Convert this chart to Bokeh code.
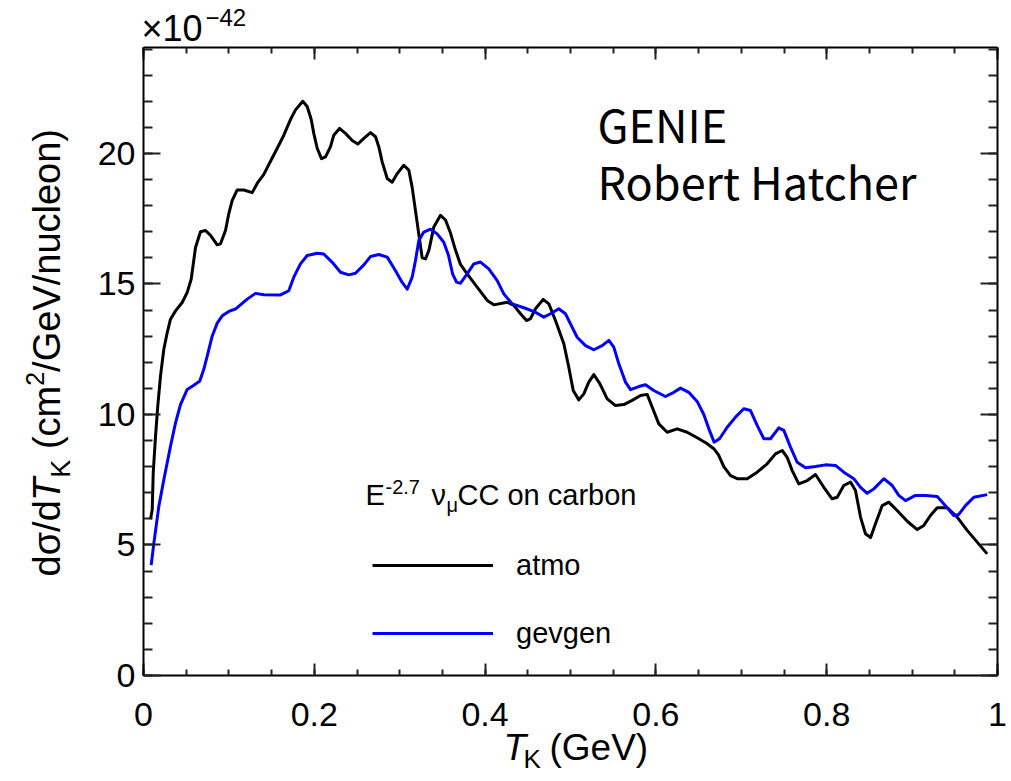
import math
from bokeh.plotting import figure
from bokeh.models import Range1d, FixedTicker, LinearAxis, Label, Legend, LegendItem
from bokeh.embed import file_html
from bokeh.resources import INLINE

# Kaon kinetic energy T_K (GeV) and d(sigma)/dT_K (units of 1e-42 cm^2/GeV/nucleon)
t_atmo = [0.0082, 0.0102, 0.0114, 0.0141, 0.0167, 0.0199, 0.0238, 0.0278, 0.0316, 0.0375,
          0.0453, 0.0512, 0.0559, 0.0609, 0.0667, 0.0726, 0.0785, 0.0863, 0.0902, 0.0960,
          0.0999, 0.1039, 0.1097, 0.1174, 0.1273, 0.1331, 0.1409, 0.1487, 0.1566, 0.1643,
          0.1721, 0.1780, 0.1865, 0.1917, 0.1964, 0.1994, 0.2034, 0.2084, 0.2131, 0.2190,
          0.2228, 0.2295, 0.2365, 0.2444, 0.2509, 0.2580, 0.2658, 0.2717, 0.2755, 0.2795,
          0.2854, 0.2912, 0.2971, 0.3048, 0.3107, 0.3146, 0.3185, 0.3224, 0.3263, 0.3302,
          0.3341, 0.3399, 0.3478, 0.3536, 0.3595, 0.3653, 0.3712, 0.3790, 0.3907, 0.4025,
          0.4102, 0.4259, 0.4336, 0.4415, 0.4485, 0.4532, 0.4590, 0.4680, 0.4746, 0.4824,
          0.4922, 0.4980, 0.5032, 0.5097, 0.5156, 0.5214, 0.5273, 0.5343, 0.5430, 0.5527,
          0.5624, 0.5722, 0.5820, 0.5898, 0.5957, 0.6034, 0.6132, 0.6249, 0.6366, 0.6483,
          0.6593, 0.6678, 0.6733, 0.6795, 0.6874, 0.6952, 0.7069, 0.7186, 0.7303, 0.7400,
          0.7479, 0.7537, 0.7596, 0.7673, 0.7772, 0.7869, 0.7966, 0.8064, 0.8123, 0.8200,
          0.8279, 0.8337, 0.8396, 0.8454, 0.8513, 0.8571, 0.8650, 0.8727, 0.8825, 0.8943,
          0.9060, 0.9137, 0.9215, 0.9294, 0.9411, 0.9528, 0.9645, 0.9762, 0.9879]
xs_atmo = [5.99, 6.35, 7.76, 9.17, 10.32, 11.47, 12.50, 13.14, 13.65, 13.97,
           14.29, 14.68, 15.19, 16.40, 17.00, 17.05, 16.86, 16.50, 16.54, 17.05,
           17.70, 18.20, 18.60, 18.60, 18.50, 18.85, 19.20, 19.70, 20.20, 20.70,
           21.30, 21.67, 22.00, 21.80, 21.30, 20.77, 20.20, 19.80, 19.87, 20.26,
           20.70, 20.96, 20.77, 20.50, 20.36, 20.58, 20.80, 20.64, 20.26, 19.68,
           19.04, 18.90, 19.23, 19.55, 19.36, 18.70, 17.80, 16.90, 16.00, 15.96,
           16.28, 17.18, 17.63, 17.45, 16.95, 16.30, 15.75, 15.39, 14.88, 14.37,
           14.20, 14.30, 14.18, 13.86, 13.60, 13.67, 14.05, 14.41, 14.24, 13.60,
           12.71, 11.81, 10.92, 10.56, 10.79, 11.24, 11.53, 11.18, 10.60, 10.34,
           10.38, 10.54, 10.73, 10.77, 10.28, 9.64, 9.32, 9.45, 9.32, 9.11,
           8.90, 8.69, 8.45, 8.00, 7.66, 7.54, 7.54, 7.79, 8.11, 8.49,
           8.62, 8.36, 7.85, 7.34, 7.47, 7.70, 7.21, 6.77, 6.83, 7.28,
           7.41, 7.09, 6.07, 5.43, 5.28, 5.81, 6.51, 6.64, 6.32, 5.91,
           5.59, 5.75, 6.13, 6.43, 6.43, 6.07, 5.56, 5.11, 4.66]

t_gevgen = [0.0090, 0.0121, 0.0179, 0.0238, 0.0316, 0.0375, 0.0433, 0.0512, 0.0589, 0.0659,
            0.0706, 0.0746, 0.0804, 0.0863, 0.0922, 0.0999, 0.1077, 0.1214, 0.1311, 0.1409,
            0.1604, 0.1701, 0.1760, 0.1838, 0.1917, 0.2034, 0.2111, 0.2210, 0.2307, 0.2404,
            0.2482, 0.2580, 0.2658, 0.2755, 0.2854, 0.2951, 0.3029, 0.3088, 0.3146, 0.3185,
            0.3224, 0.3282, 0.3361, 0.3439, 0.3516, 0.3571, 0.3618, 0.3665, 0.3712, 0.3790,
            0.3868, 0.3946, 0.4043, 0.4142, 0.4219, 0.4317, 0.4453, 0.4590, 0.4687, 0.4766,
            0.4863, 0.4941, 0.5020, 0.5078, 0.5176, 0.5273, 0.5371, 0.5449, 0.5507, 0.5566,
            0.5644, 0.5703, 0.5800, 0.5878, 0.5975, 0.6112, 0.6210, 0.6288, 0.6385, 0.6483,
            0.6561, 0.6620, 0.6682, 0.6745, 0.6835, 0.6932, 0.7029, 0.7108, 0.7186, 0.7264,
            0.7342, 0.7439, 0.7498, 0.7576, 0.7654, 0.7752, 0.7869, 0.7986, 0.8103, 0.8200,
            0.8317, 0.8396, 0.8474, 0.8552, 0.8669, 0.8767, 0.8844, 0.8923, 0.9040, 0.9157,
            0.9294, 0.9370, 0.9488, 0.9547, 0.9625, 0.9723, 0.9879]
xs_gevgen = [4.23, 5.06, 6.47, 7.50, 8.78, 9.68, 10.38, 10.96, 11.12, 11.28,
             11.73, 12.24, 13.00, 13.50, 13.78, 13.95, 14.04, 14.42, 14.64, 14.59,
             14.58, 14.74, 15.26, 15.77, 16.09, 16.18, 16.15, 15.83, 15.45, 15.35,
             15.41, 15.73, 16.05, 16.13, 16.03, 15.51, 15.06, 14.80, 15.26, 15.90,
             16.67, 16.99, 17.10, 16.92, 16.60, 16.10, 15.40, 15.07, 15.03, 15.39,
             15.77, 15.84, 15.58, 15.13, 14.62, 14.24, 14.09, 13.92, 13.73, 13.86,
             14.05, 13.86, 13.34, 12.96, 12.64, 12.48, 12.64, 12.84, 12.58, 11.94,
             11.24, 10.95, 11.07, 11.14, 10.92, 10.69, 10.85, 11.01, 10.85, 10.50,
             10.00, 9.45, 8.94, 9.07, 9.51, 9.90, 10.22, 10.15, 9.58, 9.07,
             9.07, 9.49, 9.39, 8.75, 8.17, 7.96, 8.01, 8.07, 8.05, 7.79,
             7.54, 7.21, 6.98, 7.15, 7.54, 7.28, 6.90, 6.70, 6.90, 6.90,
             6.86, 6.58, 6.13, 6.17, 6.51, 6.83, 6.93]

x_ticks = [0.0, 0.2, 0.4, 0.6, 0.8, 1.0]
x_tick_labels = ["0", "0.2", "0.4", "0.6", "0.8", "1"]
y_ticks = [0, 5, 10, 15, 20]
y_tick_labels = ["0", "5", "10", "15", "20"]

# canvas and plot-box geometry (pixels)
W, H = 1011, 781
L, R, T, B = 143, 14, 47, 106
FW, FH = W - L - R, H - T - B
X0, X1 = 0.0, 1.0
Y0, Y1 = 0.0, 24.06
FONT = "Liberation Sans"
NOTE_FONT = "Noto Sans CJK SC"

# The drawing frame spans the whole canvas; the plot box is the [X0,X1]x[Y0,Y1]
# window inside it, framed by four axes pinned to its edges.
p = figure(width=W, height=H,
           x_range=Range1d(X0 - L * (X1 - X0) / FW, X1 + R * (X1 - X0) / FW),
           y_range=Range1d(Y0 - B * (Y1 - Y0) / FH, Y1 + T * (Y1 - Y0) / FH),
           output_backend="svg", toolbar_location=None,
           min_border=0, min_border_left=0, min_border_right=0,
           min_border_top=0, min_border_bottom=0,
           background_fill_color="white", border_fill_color="white")
p.xgrid.visible = False
p.ygrid.visible = False
p.outline_line_color = None


def px_x(px):
    """canvas pixel column -> data x"""
    return X0 + (px - L) * (X1 - X0) / FW


def px_y(py):
    """canvas pixel row -> data y"""
    return Y1 - (py - T) * (Y1 - Y0) / FH


x_minor = [i * 0.05 for i in range(21)]
y_minor = list(range(0, 25))
xt = FixedTicker(ticks=x_ticks, minor_ticks=x_minor)
yt = FixedTicker(ticks=y_ticks, minor_ticks=y_minor)


def style_axis(ax, major_in, minor_in, show_labels, overrides, standoff):
    ax.major_tick_in = major_in
    ax.major_tick_out = 0
    ax.minor_tick_in = minor_in
    ax.minor_tick_out = 0
    ax.axis_line_color = "black"
    ax.axis_line_width = 2
    ax.major_tick_line_width = 2
    ax.minor_tick_line_width = 2
    ax.major_tick_line_color = "#222222"
    ax.minor_tick_line_color = "#222222"
    if show_labels:
        ax.major_label_text_font = FONT
        ax.major_label_text_font_size = "34px"
        ax.major_label_text_color = "black"
        ax.major_label_standoff = standoff
        ax.major_label_overrides = overrides
    else:
        ax.major_label_text_font_size = "0px"
        ax.major_label_text_alpha = 0


xax = p.xaxis[0]
yax = p.yaxis[0]
xax.ticker = xt
yax.ticker = yt
xax.fixed_location = Y0
xax.bounds = (X0, X1)
yax.fixed_location = X0
yax.bounds = (Y0, Y1)
style_axis(xax, 12, 6, True, {v: s for v, s in zip(x_ticks, x_tick_labels)}, 27)
style_axis(yax, 17, 9, True, {v: s for v, s in zip(y_ticks, y_tick_labels)}, 8)

top_ax = LinearAxis(ticker=xt, fixed_location=Y1, bounds=(X0, X1))
style_axis(top_ax, 12, 6, False, {}, 0)
p.add_layout(top_ax, "above")
right_ax = LinearAxis(ticker=yt, fixed_location=X1, bounds=(Y0, Y1))
style_axis(right_ax, 17, 9, False, {}, 0)
p.add_layout(right_ax, "right")

r_atmo = p.line(t_atmo, xs_atmo, line_color="black", line_width=3, line_join="round")
r_gev = p.line(t_gevgen, xs_gevgen, line_color="#0000ff", line_width=3, line_join="round")

legend = Legend(items=[LegendItem(label="atmo", renderers=[r_atmo]),
                       LegendItem(label="gevgen", renderers=[r_gev])],
                location=(372, H - 650), orientation="vertical",
                glyph_width=121, glyph_height=34, label_height=34, spacing=34,
                label_standoff=23, padding=0, margin=0,
                border_line_alpha=0, background_fill_alpha=0,
                label_text_font=FONT, label_text_font_size="29px", label_text_color="black")
p.add_layout(legend)

# vertical offset of the rendered baseline, as a fraction of the font size
SHIFT = {FONT: 0.38, NOTE_FONT: 0.48}


def txt(px, py, s, size, font=FONT, style="normal", rotated=False):
    """text whose baseline starts at canvas pixel (px, py)"""
    d = SHIFT[font] * size
    if rotated:
        x, y, ang = px - d, py, math.pi / 2
    else:
        x, y, ang = px, py - d, 0.0
    p.add_layout(Label(x=px_x(x), y=px_y(y), text=s, text_font=font,
                       text_font_size=f"{size}px", text_font_style=style,
                       text_color="black", text_align="left",
                       text_baseline="alphabetic", angle=ang))


# legend header: E^{-2.7} nu_mu CC on carbon
txt(365, 506, "E", 29)
txt(385, 494, "-2.7", 20)
txt(431, 506, "\u03bd", 29)
txt(446, 512, "\u03bc", 20)
txt(457, 506, "CC on carbon", 29)

# exponent of the y axis
txt(141, 42, "\u00d710", 36)
txt(205, 26, "\u221242", 24)

# x axis title: T_K (GeV)
txt(503, 761, "T", 37, style="italic")
txt(523, 768, "K", 26)
txt(549, 761, "(GeV)", 37)

# y axis title, rotated: d sigma / d T_K (cm^2/GeV/nucleon)
ybase = 61
txt(ybase, 576, "d\u03c3/d", 38, rotated=True)
txt(ybase, 500.4, "T", 38, style="italic", rotated=True)
txt(ybase + 10, 477.2, "K", 27, rotated=True)
txt(ybase, 448.6, "(cm", 38, rotated=True)
txt(ybase - 17, 385.3, "2", 25, rotated=True)
txt(ybase, 371.4, "/GeV/nucleon)", 38, rotated=True)

# annotation in the upper right
txt(597, 145, "GENIE", 45, font=NOTE_FONT)
txt(597, 202, "Robert Hatcher", 45, font=NOTE_FONT)

open("out.html", "w").write(file_html(p, INLINE))
